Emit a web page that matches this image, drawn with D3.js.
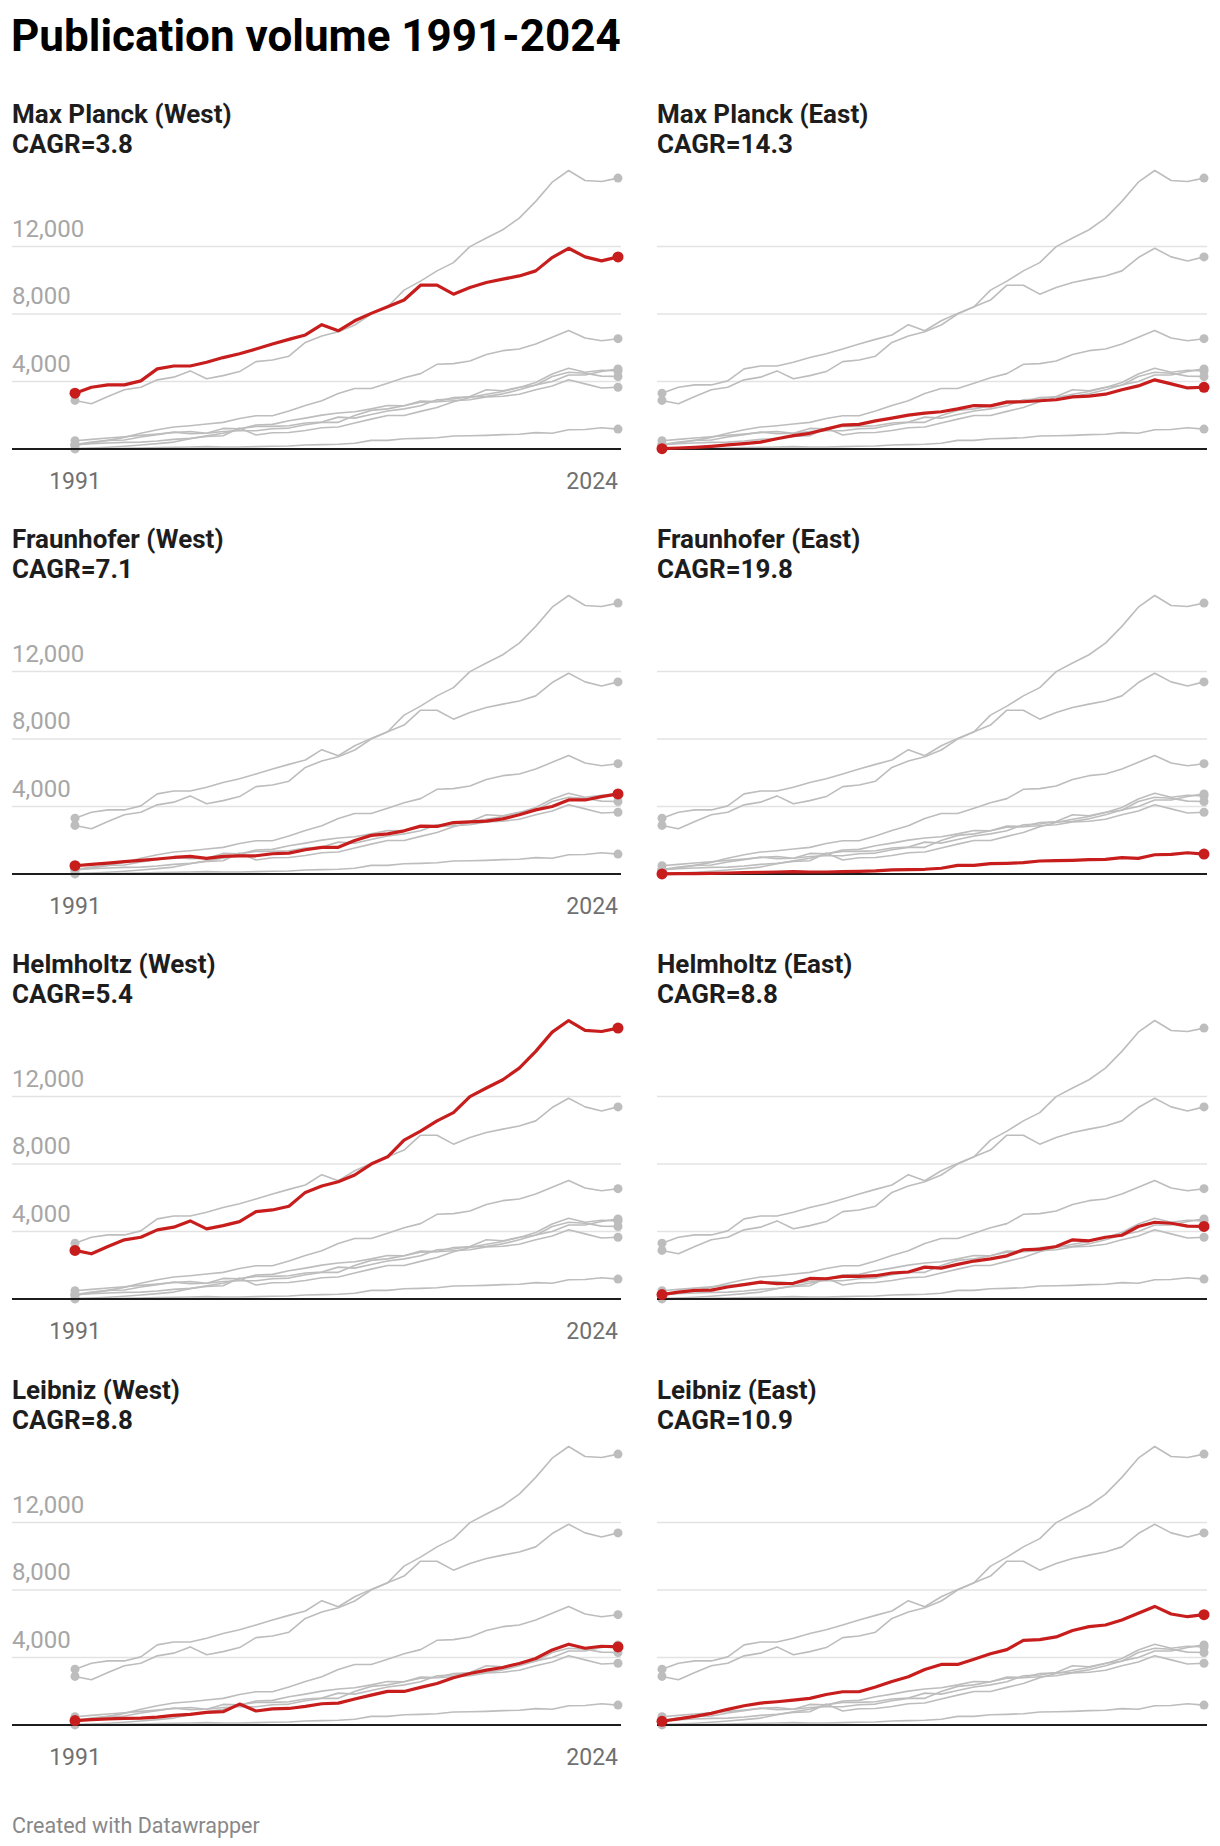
<!DOCTYPE html>
<html>
<head>
<meta charset="utf-8">
<script src="https://cdn.jsdelivr.net/npm/d3@7"></script>
<style>
  body { margin: 0; background: #fff; font-family: Roboto, "Noto Sans", sans-serif; }
  svg text { font-family: Roboto, "Noto Sans", sans-serif; }
</style>
</head>
<body>
<div id="chart"></div>
<script>
// years on the x axis
const years = [1991, 1992, 1993, 1994, 1995, 1996, 1997, 1998, 1999, 2000, 2001, 2002,
  2003, 2004, 2005, 2006, 2007, 2008, 2009, 2010, 2011, 2012, 2013, 2014, 2015, 2016,
  2017, 2018, 2019, 2020, 2021, 2022, 2023, 2024];

// publications per year
const maxPlanckWest = [3310, 3660, 3800, 3800, 4040, 4750, 4920, 4920, 5140, 5420, 5650, 5930,
  6220, 6500, 6760, 7370, 7010, 7600, 8040, 8430, 8830, 9710, 9710, 9180, 9570, 9870,
  10070, 10260, 10560, 11350, 11900, 11390, 11150, 11390];
const maxPlanckEast = [20, 60, 100, 160, 240, 320, 410, 610, 790, 930, 1180, 1420,
  1460, 1670, 1830, 2010, 2130, 2210, 2380, 2580, 2560, 2780, 2800, 2860, 2920, 3090,
  3130, 3250, 3510, 3740, 4100, 3860, 3620, 3660];
const fraunhoferWest = [490, 570, 650, 730, 810, 890, 980, 1040, 930, 1040, 1080, 1080,
  1200, 1240, 1440, 1580, 1580, 1990, 2290, 2380, 2560, 2840, 2820, 3050, 3090, 3130,
  3270, 3510, 3800, 4000, 4390, 4390, 4590, 4750];
const fraunhoferEast = [5, 20, 20, 40, 60, 80, 100, 120, 140, 120, 120, 140,
  160, 180, 240, 260, 280, 340, 510, 510, 610, 630, 670, 770, 790, 810,
  850, 870, 970, 930, 1140, 1160, 1260, 1180];
const helmholtzWest = [2880, 2680, 3110, 3510, 3660, 4100, 4260, 4630, 4160, 4350, 4590, 5180,
  5280, 5500, 6320, 6700, 6950, 7350, 8000, 8430, 9420, 9950, 10560, 11050, 12000, 12510,
  13000, 13690, 14680, 15820, 16510, 15920, 15860, 16060];
const helmholtzEast = [260, 410, 510, 530, 710, 850, 1000, 910, 930, 1220, 1200, 1340,
  1340, 1380, 1540, 1600, 1890, 1830, 2050, 2250, 2380, 2560, 2920, 2960, 3110, 3510,
  3450, 3660, 3780, 4300, 4550, 4490, 4320, 4300];
const leibnizWest = [260, 320, 360, 390, 410, 470, 570, 630, 750, 790, 1240, 830,
  960, 980, 1100, 1260, 1300, 1540, 1770, 1990, 1990, 2230, 2460, 2800, 3050, 3250,
  3410, 3650, 3940, 4450, 4790, 4550, 4670, 4630];
const leibnizEast = [220, 360, 510, 690, 930, 1140, 1300, 1380, 1480, 1580, 1810, 1970,
  1970, 2250, 2580, 2860, 3290, 3590, 3590, 3900, 4220, 4470, 5020, 5060, 5220, 5600,
  5830, 5930, 6230, 6620, 7030, 6580, 6420, 6540];

const panelTitles = ["Max Planck (West)", "Max Planck (East)", "Fraunhofer (West)", "Fraunhofer (East)",
  "Helmholtz (West)", "Helmholtz (East)", "Leibniz (West)", "Leibniz (East)"];
const cagrValues = ["3.8", "14.3", "7.1", "19.8", "5.4", "8.8", "8.8", "10.9"];
const allSeries = [maxPlanckWest, maxPlanckEast, fraunhoferWest, fraunhoferEast,
  helmholtzWest, helmholtzEast, leibnizWest, leibnizEast];

const yTicks = [4000, 8000, 12000];
const xTickLabels = ["1991", "2024"];

// page
const W = 1220, H = 1846;
const red = "#c71e1d", grey = "#bdbdbd";

const svg = d3.select("#chart").append("svg")
  .attr("width", W)
  .attr("height", H);

svg.append("text")
  .attr("x", 11)
  .attr("y", 51)
  .attr("font-size", 44)
  .attr("font-weight", 700)
  .attr("fill", "#000")
  .text("Publication volume 1991-2024");

// panel geometry
const colX = [12, 657];      // left edge of each column (gridlines start here)
const plotX = [[75, 618], [662, 1204]];  // first and last point
const gridRight = [621, 1207];
const baselines = [449, 874, 1299, 1725];
const plotH = 280;           // px for the y domain below
const yMax = 16600;

allSeries.forEach((series, p) => {
  const col = p % 2, row = Math.floor(p / 2);
  const base = baselines[row];

  const x = d3.scaleLinear()
    .domain([years[0], years[years.length - 1]])
    .range(plotX[col]);
  const y = d3.scaleLinear()
    .domain([0, yMax])
    .range([base, base - plotH]);

  const g = svg.append("g");

  // titles
  g.append("text")
    .attr("x", colX[col])
    .attr("y", base - 326)
    .attr("font-size", 26)
    .attr("font-weight", 700)
    .attr("fill", "#1d1d1d")
    .text(panelTitles[p]);
  g.append("text")
    .attr("x", colX[col])
    .attr("y", base - 296)
    .attr("font-size", 26)
    .attr("font-weight", 700)
    .attr("fill", "#1d1d1d")
    .text("CAGR=" + cagrValues[p]);

  // grid
  g.selectAll(".grid")
    .data(yTicks)
    .enter().append("line")
    .attr("x1", colX[col])
    .attr("x2", gridRight[col])
    .attr("y1", d => y(d))
    .attr("y2", d => y(d))
    .attr("stroke", "#e3e3e3")
    .attr("stroke-width", 1.5);

  // y labels only on the left column
  if (col === 0) {
    g.selectAll(".ylab")
      .data(yTicks)
      .enter().append("text")
      .attr("x", colX[col])
      .attr("y", d => y(d) - 10)
      .attr("font-size", 24)
      .attr("fill", "#a6a6a6")
      .text(d => d3.format(",")(d));

    g.append("text")
      .attr("x", x(years[0]))
      .attr("y", base + 40)
      .attr("text-anchor", "middle")
      .attr("font-size", 23)
      .attr("fill", "#707070")
      .text(xTickLabels[0]);
    g.append("text")
      .attr("x", x(years[years.length - 1]))
      .attr("y", base + 40)
      .attr("text-anchor", "end")
      .attr("font-size", 23)
      .attr("fill", "#707070")
      .text(xTickLabels[1]);
  }

  const line = d3.line()
    .x((d, i) => x(years[i]))
    .y(d => y(d));

  // grey context lines
  allSeries.forEach((s, k) => {
    if (k === p) return;
    g.append("path")
      .datum(s)
      .attr("d", line)
      .attr("fill", "none")
      .attr("stroke", grey)
      .attr("stroke-width", 1.6)
      .attr("stroke-linejoin", "round");
    g.selectAll(null)
      .data([0, s.length - 1])
      .enter().append("circle")
      .attr("cx", i => x(years[i]))
      .attr("cy", i => y(s[i]))
      .attr("r", 4.5)
      .attr("fill", grey);
  });

  // baseline
  g.append("line")
    .attr("x1", colX[col])
    .attr("x2", gridRight[col])
    .attr("y1", y(0))
    .attr("y2", y(0))
    .attr("stroke", "#1d1d1d")
    .attr("stroke-width", 2);

  // highlighted series
  g.append("path")
    .datum(series)
    .attr("d", line)
    .attr("fill", "none")
    .attr("stroke", red)
    .attr("stroke-width", 3.2)
    .attr("stroke-linejoin", "round");
  g.selectAll(null)
    .data([0, series.length - 1])
    .enter().append("circle")
    .attr("cx", i => x(years[i]))
    .attr("cy", i => y(series[i]))
    .attr("r", 5.5)
    .attr("fill", red);
});

svg.append("text")
  .attr("x", 12)
  .attr("y", 1833)
  .attr("font-size", 21.5)
  .attr("fill", "#888")
  .text("Created with Datawrapper");
</script>
</body>
</html>
